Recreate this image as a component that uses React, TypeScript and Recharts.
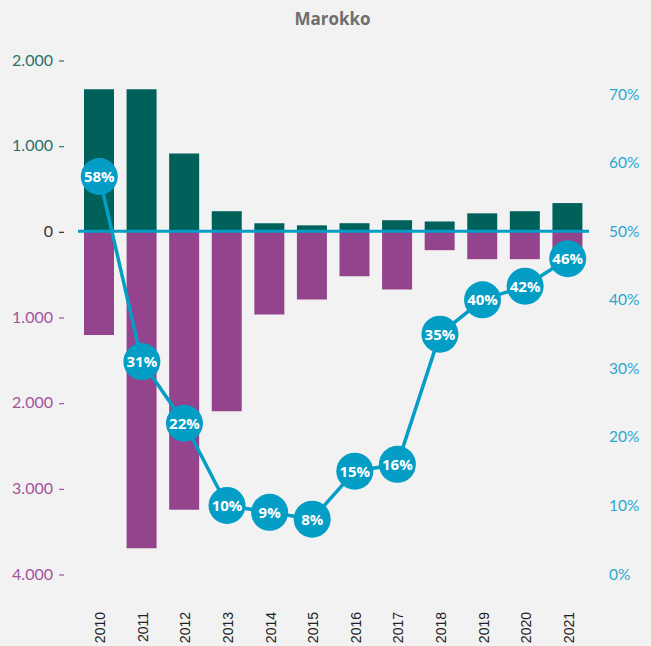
import React from "react";
import { ComposedChart, Bar, Line, XAxis, YAxis, ReferenceLine } from "recharts";

const years = ["2010", "2011", "2012", "2013", "2014", "2015", "2016", "2017", "2018", "2019", "2020", "2021"];
const positiveValues = [1660, 1660, 910, 235, 95, 70, 95, 130, 115, 210, 235, 330];
const negativeValues = [-1210, -3700, -3250, -2100, -970, -795, -525, -680, -220, -325, -325, -330];
const shareValues = [58, 31, 22, 10, 9, 8, 15, 16, 35, 40, 42, 46];
const leftTicks = [-4000, -3000, -2000, -1000, 0, 1000, 2000];
const rightTicks = [0, 10, 20, 30, 40, 50, 60, 70];

const data = years.map((y, i) => ({
  year: y,
  pos: positiveValues[i],
  neg: negativeValues[i],
  share: shareValues[i],
}));

const TEAL = "#00605a";
const PURPLE = "#93448c";
const BLUE = "#049dc5";

function fmt(v: number) {
  const s = String(Math.abs(v));
  return s.replace(/\B(?=(\d{3})+(?!\d))/g, ".");
}

const LeftTick = (props: any) => {
  const { x, y, payload } = props;
  const v = payload.value;
  const color = v > 0 ? "#2a716c" : v < 0 ? "#a2549d" : "#333333";
  return (
    <g>
      <text x={x - 25} y={y} dy={5.5} textAnchor="end" fill={color} fontSize={16} fontFamily="Lato, sans-serif">
        {fmt(v)}
      </text>
      <line x1={x - 19} x2={x - 14} y1={y + 1} y2={y + 1} stroke={color} strokeWidth={1.2} />
    </g>
  );
};

const RightTick = (props: any) => {
  const { x, y, payload } = props;
  return (
    <text x={x} y={y} dy={5.5} textAnchor="start" fill="#2aa7cf" fontSize={15.5} fontFamily="Lato, sans-serif">
      {payload.value + "%"}
    </text>
  );
};

const XTick = (props: any) => {
  const { x, payload } = props;
  return (
    <text
      transform={`translate(${x + 6},612) rotate(-90)`}
      textAnchor="end"
      fill="#222222"
      fontSize={14}
      fontFamily="'Liberation Sans', Arial, sans-serif"
    >
      {payload.value}
    </text>
  );
};

const Dot = (props: any) => {
  const { cx, cy, value, index } = props;
  if (cx == null || cy == null) return null;
  return (
    <g key={`d${index}`}>
      <circle cx={cx} cy={cy} r={18.5} fill={BLUE} />
      <text
        x={cx}
        y={cy}
        dy={5.5}
        textAnchor="middle"
        fill="#ffffff"
        fontSize={15}
        fontWeight={700}
        fontFamily="'Open Sans', sans-serif"
      >
        {value + "%"}
      </text>
    </g>
  );
};

export default function App() {
  return (
    <div style={{ position: "absolute", left: 0, top: 0, width: 651, height: 646, background: "#f2f2f2", overflow: "hidden" }}>
      <div
        style={{
          position: "absolute",
          left: 0,
          top: 9,
          width: 665,
          textAlign: "center",
          fontFamily: "'Open Sans', sans-serif",
          fontWeight: 700,
          fontSize: 17,
          color: "#6e6e6e",
          lineHeight: "20px",
        }}
      >
        Marokko
      </div>
      <div style={{ position: "absolute", left: 0, top: 0 }}>
        <ComposedChart
          width={651}
          height={646}
          data={data}
          stackOffset="sign"
          margin={{ top: 60, right: 0, bottom: 0, left: 0 }}
        >
          <XAxis
            dataKey="year"
            xAxisId={0}
            height={72}
            axisLine={false}
            tickLine={false}
            tick={<XTick />}
            interval={0}
          />
          <YAxis
            yAxisId="left"
            orientation="left"
            width={78}
            domain={[-4000, 2000]}
            ticks={leftTicks}
            axisLine={false}
            tickLine={false}
            tickSize={0}
            tickMargin={0}
            tick={<LeftTick />}
            interval={0}
          />
          <YAxis
            yAxisId="right"
            orientation="right"
            width={62}
            domain={[0, 75]}
            ticks={rightTicks}
            axisLine={false}
            tickLine={false}
            tickSize={0}
            tickMargin={20}
            tick={<RightTick />}
            interval={0}
          />
          <Bar yAxisId="left" dataKey="pos" stackId="a" fill={TEAL} barSize={30} isAnimationActive={false} />
          <Bar yAxisId="left" dataKey="neg" stackId="a" fill={PURPLE} barSize={30} isAnimationActive={false} />
          <ReferenceLine yAxisId="left" y={0} stroke={BLUE} strokeWidth={3} />
          <Line
            yAxisId="right"
            dataKey="share"
            stroke={BLUE}
            strokeWidth={3.5}
            dot={<Dot />}
            activeDot={false}
            isAnimationActive={false}
          />
        </ComposedChart>
      </div>
    </div>
  );
}
